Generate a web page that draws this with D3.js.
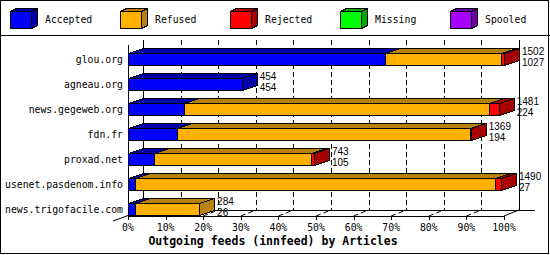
<!DOCTYPE html>
<html>
<head>
<meta charset="utf-8">
<script src="https://cdnjs.cloudflare.com/ajax/libs/d3/7.8.5/d3.min.js"></script>
<style>
  body { margin: 0; background: #fff; }
  svg text { font-family: "DejaVu Sans Mono", monospace; font-size: 9.8px; fill: #000; }
  svg .num { font-family: "Liberation Sans", Arial, sans-serif; font-size: 10px; }
  svg .title { font-weight: bold; font-size: 11.5px; }
</style>
</head>
<body>
<script>
// feeds, top to bottom
var feeds = ["glou.org", "agneau.org", "news.gegeweb.org", "fdn.fr",
             "proxad.net", "usenet.pasdenom.info", "news.trigofacile.com"];
// articles per status
var accepted = [1027, 454, 224, 194, 105, 27, 26];
var refused  = [462, 0, 1219, 1172, 628, 1439, 258];
var rejected = [13, 0, 38, 3, 10, 24, 0];
var missing  = [0, 0, 0, 0, 0, 0, 0];
var spooled  = [0, 0, 0, 0, 0, 0, 0];
// printed totals (offered / accepted)
var offered  = [1502, 454, 1481, 1369, 743, 1490, 284];

var seriesNames = ["Accepted", "Refused", "Rejected", "Missing", "Spooled"];
var pctTicks = [0, 10, 20, 30, 40, 50, 60, 70, 80, 90, 100];

var colors = {
  Accepted: ["#0000ff", "#0000a8"],
  Refused:  ["#ffb000", "#b8800c"],
  Rejected: ["#ff0000", "#a80000"],
  Missing:  ["#00ff00", "#00a800"],
  Spooled:  ["#a800ff", "#7000a8"]
};

var width = 550, height = 255;
var dx = 15, dy = 5;   // 3d depth of the bars

var svg = d3.select("body")
  .append("svg")
  .attr("width", width)
  .attr("height", height)
  .attr("shape-rendering", "crispEdges");

svg.append("rect")
  .attr("x", 0.5).attr("y", 0.5)
  .attr("width", 548).attr("height", 253)
  .attr("fill", "#fff").attr("stroke", "#000");

svg.append("line")
  .attr("x1", 0).attr("x2", width)
  .attr("y1", 35.5).attr("y2", 35.5)
  .attr("stroke", "#000");

// legend
var legend = svg.append("g").selectAll("g")
  .data(seriesNames)
  .enter().append("g")
  .attr("transform", function(d, i) { return "translate(" + (10 + 110 * i) + ",0)"; });

legend.append("polygon")
  .attr("points", "21.5,11.5 27.5,8.5 27.5,25.5 21.5,28.5")
  .attr("fill", function(d) { return colors[d][1]; })
  .attr("stroke", "#000");
legend.append("polygon")
  .attr("points", "0.5,11.5 6.5,8.5 27.5,8.5 21.5,11.5")
  .attr("fill", function(d) { return colors[d][1]; })
  .attr("stroke", "#000");
legend.append("rect")
  .attr("x", 0.5).attr("y", 11.5)
  .attr("width", 21).attr("height", 17)
  .attr("fill", function(d) { return colors[d][0]; })
  .attr("stroke", "#000");
legend.append("text")
  .attr("x", 35).attr("y", 23)
  .text(function(d) { return d; });

// scales
var maxTotal = d3.max(offered);
var x = d3.scaleLinear().domain([0, maxTotal]).range([128, 504]);
var xp = d3.scaleLinear().domain([0, 100]).range([128, 504]);
var y = d3.scaleBand().domain(feeds).range([46.5, 221.5])
  .paddingInner(0.52).paddingOuter(0.26);

var yTop = 40, yFloor = 210, yFront = 216;

// back walls and grid
var walls = svg.append("g").attr("stroke", "#000").attr("fill", "none");
walls.append("line")
  .attr("x1", xp(0) + dx + 0.5).attr("x2", xp(0) + dx + 0.5)
  .attr("y1", yTop).attr("y2", yFloor);
walls.append("line")
  .attr("x1", xp(100) + dx + 0.5).attr("x2", xp(100) + dx + 0.5)
  .attr("y1", yTop).attr("y2", yFloor);
walls.selectAll(".grid")
  .data(pctTicks.slice(1, 10))
  .enter().append("line")
  .attr("class", "grid")
  .attr("x1", function(d) { return Math.round(xp(d)) + dx + 0.5; })
  .attr("x2", function(d) { return Math.round(xp(d)) + dx + 0.5; })
  .attr("y1", yTop).attr("y2", yFloor)
  .attr("stroke-dasharray", "5,3");
walls.append("line")
  .attr("x1", xp(0) + dx).attr("x2", xp(100) + dx + 16)
  .attr("y1", yFloor + 0.5).attr("y2", yFloor + 0.5);
walls.append("line")
  .attr("x1", xp(0)).attr("x2", xp(100))
  .attr("y1", yFront + 0.5).attr("y2", yFront + 0.5);
walls.append("line")
  .attr("x1", xp(0) + 0.5).attr("x2", xp(0) + 0.5)
  .attr("y1", 45).attr("y2", yFront);
walls.append("line")
  .attr("shape-rendering", "auto")
  .attr("x1", xp(0) - dx).attr("y1", yFront + dy)
  .attr("x2", xp(0) + dx).attr("y2", yFloor);
walls.append("line")
  .attr("shape-rendering", "auto")
  .attr("x1", xp(100)).attr("y1", yFront)
  .attr("x2", xp(100) + dx).attr("y2", yFloor);
walls.selectAll(".ftick")
  .data(pctTicks.slice(1, 10))
  .enter().append("line")
  .attr("class", "ftick")
  .attr("shape-rendering", "auto")
  .attr("x1", function(d) { return xp(d); }).attr("y1", yFront)
  .attr("x2", function(d) { return xp(d) + dx; }).attr("y2", yFloor)
  .attr("stroke-dasharray", "5,3");
walls.selectAll(".tick")
  .data(pctTicks)
  .enter().append("line")
  .attr("class", "tick")
  .attr("x1", function(d) { return Math.round(xp(d)) + 0.5; })
  .attr("x2", function(d) { return Math.round(xp(d)) + 0.5; })
  .attr("y1", yFront).attr("y2", yFront + 4);

// bars
var rows = feeds.map(function(f, i) {
  var vals = [accepted[i], refused[i], rejected[i], missing[i], spooled[i]];
  var segs = [], acc = 0;
  vals.forEach(function(v, j) {
    if (v > 0) segs.push({ name: seriesNames[j], x0: acc, x1: acc + v });
    acc += v;
  });
  return { feed: f, segs: segs, total: offered[i], acc: accepted[i] };
});

var bars = svg.append("g").selectAll("g")
  .data(rows)
  .enter().append("g");

bars.each(function(r) {
  var g = d3.select(this);
  var t = Math.round(y(r.feed)) + 0.5, b = t + y.bandwidth();
  r.segs.forEach(function(s, k) {
    var a = Math.round(x(s.x0)) + 0.5, e = Math.round(x(s.x1)) + 0.5;
    g.append("polygon")
      .attr("points", [[a, t], [a + dx, t - dy], [e + dx, t - dy], [e, t]].join(" "))
      .attr("fill", colors[s.name][1]).attr("stroke", "#000");
    if (k == r.segs.length - 1) {
      g.append("polygon")
        .attr("points", [[e, t], [e + dx, t - dy], [e + dx, b - dy], [e, b]].join(" "))
        .attr("fill", colors[s.name][1]).attr("stroke", "#000");
    }
    g.append("rect")
      .attr("x", a).attr("y", t)
      .attr("width", e - a).attr("height", b - t)
      .attr("fill", colors[s.name][0]).attr("stroke", "#000");
  });
  var tx = x(r.total) + dx + 3;
  g.append("text").attr("class", "num").attr("x", tx).attr("y", t + 1).text(r.total);
  g.append("text").attr("class", "num").attr("x", tx).attr("y", t + 12).text(r.acc);
});

// category labels
svg.append("g").selectAll("text")
  .data(feeds)
  .enter().append("text")
  .attr("text-anchor", "end")
  .attr("x", 123)
  .attr("y", function(d) { return y(d) + 10; })
  .text(function(d) { return d; });

// tick labels
svg.append("g").selectAll("text")
  .data(pctTicks)
  .enter().append("text")
  .attr("text-anchor", "middle")
  .attr("x", function(d) { return xp(d); })
  .attr("y", 231)
  .text(function(d) { return d + "%"; });

svg.append("text")
  .attr("class", "title")
  .attr("text-anchor", "middle")
  .attr("x", 273).attr("y", 245)
  .text("Outgoing feeds (innfeed) by Articles");
</script>
</body>
</html>
